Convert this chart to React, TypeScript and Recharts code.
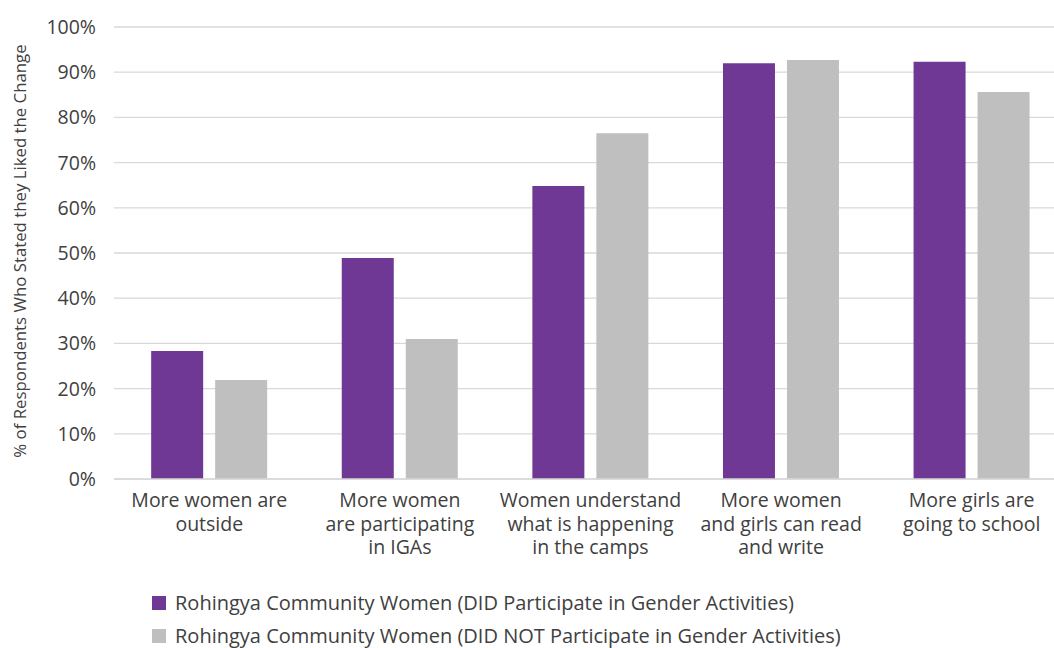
import { Bar, BarChart, CartesianGrid, Legend, XAxis, YAxis } from 'recharts';

const CATEGORIES = [
  ['More women are', 'outside'],
  ['More women', 'are participating', 'in IGAs'],
  ['Women understand', 'what is happening', 'in the camps'],
  ['More women', 'and girls can read', 'and write'],
  ['More girls are', 'going to school'],
];
const DID_PARTICIPATE = [28.3, 48.9, 64.8, 92.0, 92.3];
const DID_NOT_PARTICIPATE = [21.9, 31.0, 76.5, 92.7, 85.6];
const Y_TICKS = [0, 10, 20, 30, 40, 50, 60, 70, 80, 90, 100];

const SERIES = [
  { key: 'did', name: 'Rohingya Community Women (DID Participate in Gender Activities)', color: '#6E3894' },
  { key: 'didNot', name: 'Rohingya Community Women (DID NOT Participate in Gender Activities)', color: '#BFBFBF' },
];

const FONT = '"Open Sans", "Noto Sans", sans-serif';
const TEXT = '#404040';

const data = CATEGORIES.map((lines, i) => ({
  name: lines.join(' '),
  did: DID_PARTICIPATE[i],
  didNot: DID_NOT_PARTICIPATE[i],
}));

// each wrapped line is its own <text>, stacked under the tick
function CategoryTick({ x, y, index }: any) {
  const lines = CATEGORIES[index] || [];
  return (
    <g>
      {lines.map((l, i) => (
        <text
          key={i}
          x={x}
          y={y + 18 + i * 23.5}
          textAnchor="middle"
          fill={TEXT}
          fontSize={19.5}
          fontFamily={FONT}
        >
          {l}
        </text>
      ))}
    </g>
  );
}

function LegendBox() {
  return (
    <div style={{ fontFamily: FONT, fontSize: 20, color: TEXT, whiteSpace: 'nowrap' }}>
      {SERIES.map((s) => (
        <div key={s.key} style={{ display: 'flex', alignItems: 'center', height: 33 }}>
          <span style={{ width: 14, height: 14, background: s.color, marginRight: 9, display: 'inline-block' }} />
          <span>{s.name}</span>
        </div>
      ))}
    </div>
  );
}

export default function App() {
  return (
    <div style={{ position: 'fixed', left: 0, top: 0, width: 1054, height: 648, overflow: 'hidden', background: '#fff' }}>
      <BarChart
        width={1070}
        height={648}
        data={data}
        margin={{ top: 27, right: 3, bottom: 0, left: 0 }}
        barCategoryGap="19.5%"
        barGap={12}
      >
        <CartesianGrid vertical={false} stroke="#D9D9D9" strokeWidth={1.3} />
        <XAxis
          dataKey="name"
          height={169}
          interval={0}
          tick={<CategoryTick />}
          tickLine={false}
          axisLine={{ stroke: '#D9D9D9', strokeWidth: 1.3 }}
          tickMargin={4}
        />
        <YAxis
          width={114}
          domain={[0, 100]}
          ticks={Y_TICKS}
          tickFormatter={(v) => `${v}%`}
          tick={{ fontSize: 19.5, fill: TEXT, fontFamily: FONT }}
          tickLine={false}
          axisLine={false}
          tickSize={0}
          tickMargin={18}
          label={{
            content: ({ viewBox }: any) => {
              const cy = viewBox.y + viewBox.height / 2 - 2;
              return (
                <text
                  x={19}
                  y={cy}
                  transform={`rotate(-90 19 ${cy})`}
                  textAnchor="middle"
                  dominantBaseline="central"
                  fill={TEXT}
                  fontSize={16.8}
                  fontFamily={FONT}
                >
                  % of Respondents Who Stated they Liked the Change
                </text>
              );
            },
          }}
        />
        <Legend
          layout="horizontal"
          verticalAlign="middle"
          align="center"
          content={<LegendBox />}
          wrapperStyle={{ top: 586, left: 152, width: 880 }}
        />
        {SERIES.map((s) => (
          <Bar key={s.key} dataKey={s.key} name={s.name} fill={s.color} isAnimationActive={false} />
        ))}
      </BarChart>
    </div>
  );
}
